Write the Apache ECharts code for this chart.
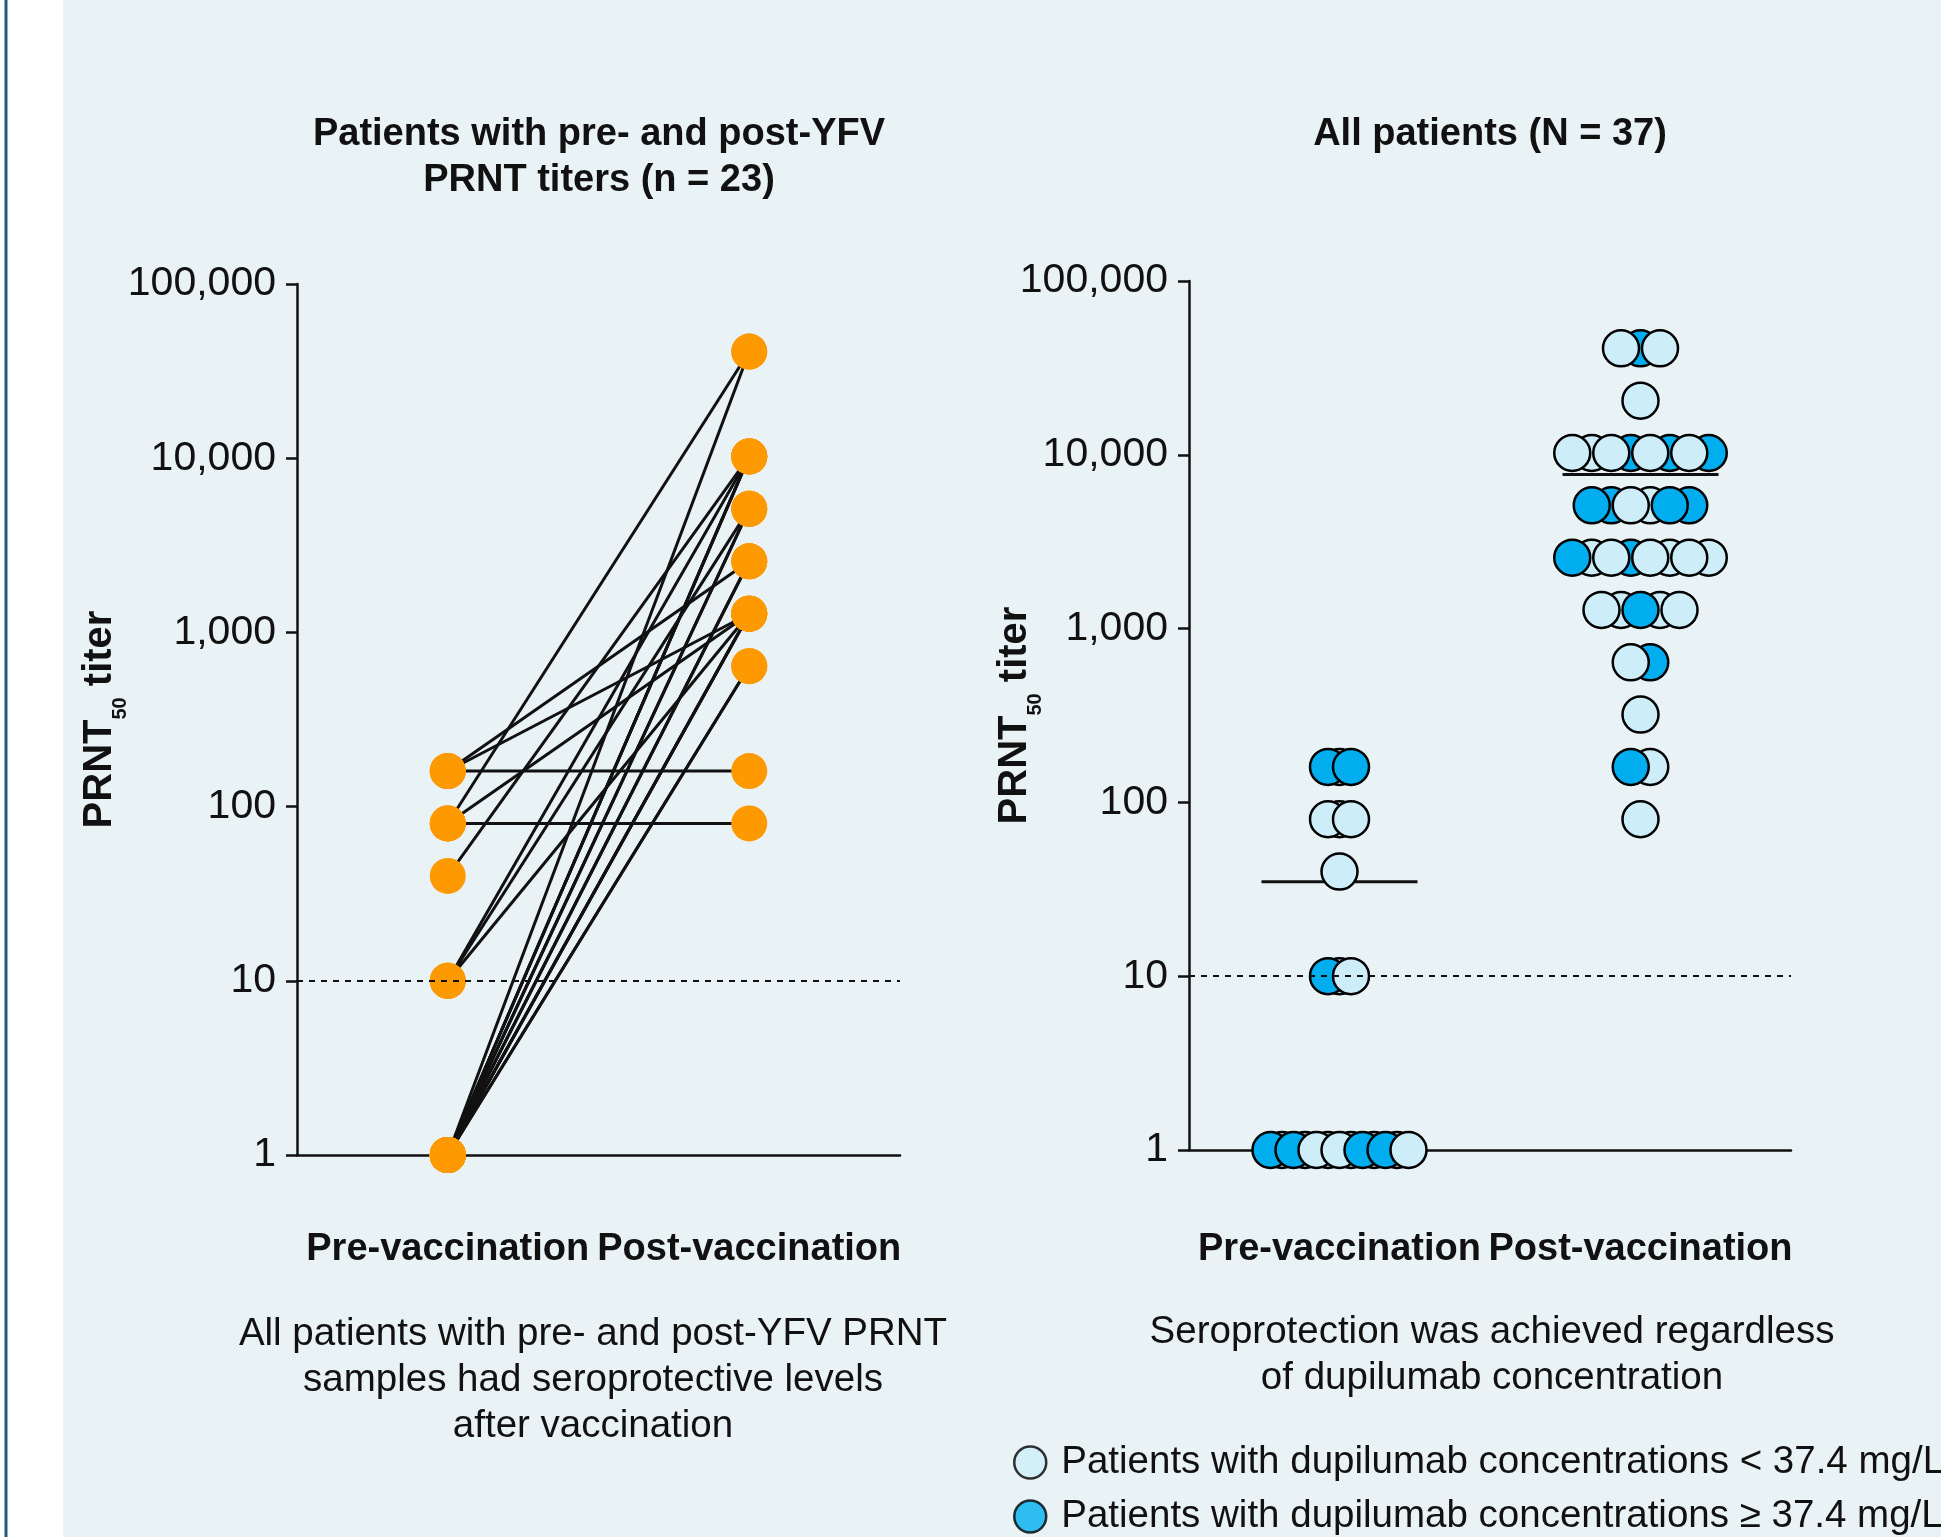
<!DOCTYPE html>
<html>
<head>
<meta charset="utf-8">
<script src="https://cdn.jsdelivr.net/npm/echarts@6/dist/echarts.min.js"></script>
<style>
  html, body { margin: 0; padding: 0; background: #fff; }
  #chart { width: 1941px; height: 1537px; }
</style>
</head>
<body>
<div id="chart"></div>
<script>
  // categories and axis ticks
  const categories = ['Pre-vaccination', 'Post-vaccination'];
  const tickValues = [1, 10, 100, 1000, 10000, 100000];

  // left panel: paired pre / post PRNT50 titers (n = 23), one entry per patient
  const pairedPre = [160, 160, 160, 80, 80, 80, 40, 10, 10, 10,
    1, 1, 1, 1, 1, 1, 1, 1, 1, 1, 1, 1, 1];
  const pairedPost = [2560, 1280, 160, 40960, 1280, 80, 10240, 10240, 5120, 1280,
    40960, 10240, 10240, 10240, 5120, 5120, 2560, 2560, 1280, 1280, 1280, 640, 640];

  // right panel: all patients, titer and dupilumab concentration group (1 = >= 37.4 mg/L)
  const allPreTiters = [160, 160, 160, 80, 80, 80, 40, 10, 10, 10,
    1, 1, 1, 1, 1, 1, 1, 1, 1, 1, 1, 1, 1];
  const allPreHigh = [1, 0, 1, 0, 0, 0, 0, 1, 0, 0,
    1, 0, 1, 0, 0, 0, 0, 0, 1, 0, 1, 0, 0];
  const allPostTiters = [40960, 40960, 40960, 20480,
    10240, 10240, 10240, 10240, 10240, 10240, 10240, 10240,
    5120, 5120, 5120, 5120, 5120, 5120,
    2560, 2560, 2560, 2560, 2560, 2560, 2560, 2560,
    1280, 1280, 1280, 1280, 1280,
    640, 640, 320, 160, 160, 80];
  const allPostHigh = [0, 1, 0, 0,
    0, 0, 0, 1, 0, 1, 0, 1,
    1, 1, 0, 0, 1, 1,
    1, 0, 0, 1, 0, 0, 0, 0,
    0, 0, 1, 0, 0,
    0, 1, 0, 1, 0, 0];

  const legendNames = [
    'Patients with dupilumab concentrations < 37.4 mg/L',
    'Patients with dupilumab concentrations \u2265 37.4 mg/L'
  ];

  const FONT = "'Liberation Sans', Arial, Helvetica, sans-serif";
  const INK = '#111';
  const ORANGE = '#ff9900';
  const LIGHT = '#cdeef9';
  const DARK = '#00aeef';

  function mean(arr) {
    return arr.reduce((s, v) => s + v, 0) / arr.length;
  }

  // beeswarm rows: index of each point within its (column, titer) row
  function swarm(col, titers, high) {
    const rows = {};
    titers.forEach(v => { rows[v] = (rows[v] || 0) + 1; });
    const seen = {};
    const pts = titers.map((v, i) => {
      const k = seen[v] || 0;
      seen[v] = k + 1;
      return [col, v, high[i], k, rows[v]];
    });
    // odd slots drawn first so even slots sit on top
    return pts.filter(p => p[3] % 2 === 1).concat(pts.filter(p => p[3] % 2 === 0));
  }

  const dotData = swarm(0, allPreTiters, allPreHigh).concat(swarm(1, allPostTiters, allPostHigh));

  function xAxisFor(gridIndex, margin) {
    return {
      type: 'category',
      gridIndex: gridIndex,
      data: categories,
      boundaryGap: true,
      axisLine: { lineStyle: { color: INK, width: 2.5 } },
      axisTick: { alignWithLabel: true, length: 12, lineStyle: { color: INK, width: 2.5 } },
      axisLabel: {
        interval: 0, margin: margin, hideOverlap: false,
        fontFamily: FONT, fontSize: 38, fontWeight: 'bold', color: INK
      },
      splitLine: { show: false }
    };
  }

  function yAxisFor(gridIndex, nameGap) {
    return {
      type: 'log',
      logBase: 10,
      gridIndex: gridIndex,
      min: tickValues[0],
      max: tickValues[tickValues.length - 1],
      splitNumber: 5,
      name: 'PRNT{sub|50} titer',
      nameLocation: 'middle',
      nameGap: nameGap,
      nameMoveOverlap: false,
      nameTextStyle: {
        fontFamily: FONT, fontSize: 40, fontWeight: 'bold', color: INK,
        rich: {
          sub: { fontFamily: FONT, fontSize: 20, fontWeight: 'bold', color: INK, lineHeight: 20, padding: [40, 0, 0, 0] }
        }
      },
      axisLine: { show: true, lineStyle: { color: INK, width: 2.5 } },
      axisTick: { show: true, length: 11, lineStyle: { color: INK, width: 2.5 } },
      axisLabel: {
        fontFamily: FONT, fontSize: 41, color: INK, margin: 21,
        formatter: v => Math.round(v).toLocaleString('en-US')
      },
      splitLine: { show: false }
    };
  }

  const cutoffLine = {
    silent: true,
    symbol: 'none',
    label: { show: false },
    lineStyle: { color: INK, type: [6, 6], width: 2 },
    data: [{ yAxis: 10 }]
  };

  const titleText = { fontFamily: FONT, fontSize: 38, fontWeight: 'bold', color: INK, lineHeight: 46 };
  const captionText = { fontFamily: FONT, fontSize: 38.5, fontWeight: 'normal', color: INK, lineHeight: 46 };

  function legendFor(i, top, fill) {
    return {
      orient: 'vertical',
      left: 1008,
      top: top,
      itemWidth: 32,
      itemHeight: 32,
      selectedMode: false,
      icon: 'circle',
      textStyle: { fontFamily: FONT, fontSize: 38.5, color: INK, padding: [0, 0, 0, 10] },
      data: [{ name: legendNames[i], itemStyle: { color: fill, borderColor: '#000', borderWidth: 2.5 } }]
    };
  }

  const option = {
    animation: false,
    graphic: [
      { type: 'rect', z: -10, shape: { x: 63, y: 0, width: 1878, height: 1537 }, style: { fill: '#e9f2f5' } },
      { type: 'line', z: -10, shape: { x1: 6, y1: 0, x2: 6, y2: 1537 }, style: { stroke: '#1d5f7d', lineWidth: 3 } }
    ],
    title: [
      { text: 'Patients with pre- and post-YFV\nPRNT titers (n = 23)', left: 599, top: 112, textAlign: 'center', padding: 0, textStyle: titleText },
      { text: 'All patients (N = 37)', left: 1490, top: 112, textAlign: 'center', padding: 0, textStyle: titleText },
      { text: 'All patients with pre- and post-YFV PRNT\nsamples had seroprotective levels\nafter vaccination', left: 593, top: 1311, textAlign: 'center', padding: 0, textStyle: captionText },
      { text: 'Seroprotection was achieved regardless\nof dupilumab concentration', left: 1492, top: 1309, textAlign: 'center', padding: 0, textStyle: captionText }
    ],
    legend: [legendFor(0, 1438, LIGHT), legendFor(1, 1492, DARK)],
    grid: [
      { left: 297, top: 284, width: 603, height: 871 },
      { left: 1189, top: 281, width: 602, height: 869 }
    ],
    xAxis: [xAxisFor(0, 76), xAxisFor(1, 81)],
    yAxis: [yAxisFor(0, 177), yAxisFor(1, 154)],
    series: [
      {
        // patient lines pre -> post
        type: 'custom',
        xAxisIndex: 0,
        yAxisIndex: 0,
        z: 2,
        silent: true,
        encode: { x: [0, 2], y: [1, 3] },
        data: pairedPre.map((v, i) => [0, v, 1, pairedPost[i]]),
        renderItem: function (params, api) {
          const a = api.coord([api.value(0), api.value(1)]);
          const b = api.coord([api.value(2), api.value(3)]);
          return {
            type: 'line',
            shape: { x1: a[0], y1: a[1], x2: b[0], y2: b[1] },
            style: { stroke: INK, lineWidth: 3 }
          };
        },
        markLine: cutoffLine
      },
      {
        type: 'scatter',
        xAxisIndex: 0,
        yAxisIndex: 0,
        z: 3,
        symbol: 'circle',
        symbolSize: 36,
        itemStyle: { color: ORANGE, opacity: 1 },
        data: pairedPre.map(v => [0, v]).concat(pairedPost.map(v => [1, v]))
      },
      {
        // mean titer bars
        type: 'custom',
        xAxisIndex: 1,
        yAxisIndex: 1,
        z: 2,
        silent: true,
        encode: { x: 0, y: 1 },
        data: [[0, mean(allPreTiters)], [1, mean(allPostTiters)]],
        renderItem: function (params, api) {
          const c = api.coord([api.value(0), api.value(1)]);
          return {
            type: 'line',
            shape: { x1: c[0] - 78, y1: c[1], x2: c[0] + 78, y2: c[1] },
            style: { stroke: INK, lineWidth: 3 }
          };
        },
        markLine: cutoffLine
      },
      {
        // beeswarm dots
        type: 'custom',
        xAxisIndex: 1,
        yAxisIndex: 1,
        z: 3,
        silent: true,
        encode: { x: 0, y: 1 },
        data: dotData,
        renderItem: function (params, api) {
          const c = api.coord([api.value(0), api.value(1)]);
          const step = api.value(0) === 0 ? 11.5 : 19.5;
          const off = (api.value(3) - (api.value(4) - 1) / 2) * step;
          return {
            type: 'circle',
            shape: { cx: c[0] + off, cy: c[1], r: 18 },
            style: { fill: api.value(2) ? DARK : LIGHT, stroke: '#000', lineWidth: 2.5 }
          };
        }
      },
      {
        type: 'scatter', name: legendNames[0], xAxisIndex: 1, yAxisIndex: 1, data: [],
        itemStyle: { color: LIGHT, borderColor: '#000', borderWidth: 2.5 }
      },
      {
        type: 'scatter', name: legendNames[1], xAxisIndex: 1, yAxisIndex: 1, data: [],
        itemStyle: { color: DARK, borderColor: '#000', borderWidth: 2.5 }
      }
    ]
  };

  const myChart = echarts.init(document.getElementById('chart'));
  myChart.setOption(option);
</script>
</body>
</html>
